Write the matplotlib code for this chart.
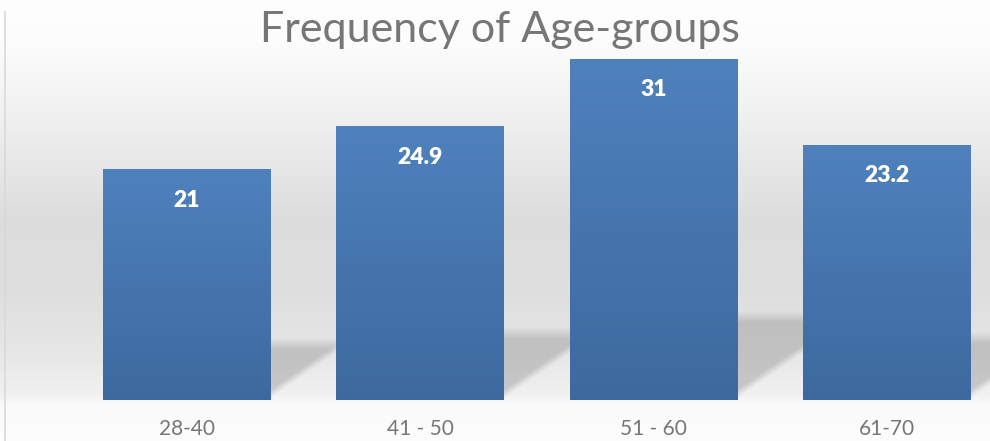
import matplotlib
matplotlib.use('Agg')
import matplotlib.pyplot as plt
import numpy as np

# data
age_groups = ['28-40', '41 - 50', '51 - 60', '61-70']
frequency = [21, 24.9, 31, 23.2]
value_labels = ['21', '24.9', '31', '23.2']

plt.rcParams['font.family'] = ['Lato', 'DejaVu Sans']

fig = plt.figure(figsize=(9.9, 4.41), dpi=100)

# background: soft grey band behind the bars
bg = fig.add_axes([0, 0, 1, 1], zorder=0)
yy = np.linspace(0, 441, 441)  # pixel rows from top
stops_y = [0, 40, 120, 220, 300, 360, 395, 405, 441]
stops_c = [0.995, 0.99, 0.94, 0.865, 0.875, 0.91, 0.945, 0.985, 0.99]
col = np.interp(yy, stops_y, stops_c)
img = np.repeat(col[:, None], 990, axis=1)
bg.imshow(np.dstack([img, img, img]), extent=[0, 990, 441, 0], aspect='auto')
bg.plot([5, 5], [12, 441], color='#d9d9d9', lw=1.2)
bg.set_xlim(0, 990)
bg.set_ylim(441, 0)
bg.axis('off')

ax = fig.add_axes([70 / 990, 41 / 441, 933.3 / 990, 385 / 441], zorder=1)
ax.patch.set_alpha(0)
x = np.arange(len(age_groups))
width = 0.716
bars = ax.bar(x, frequency, width=width, color='#4a7bb7', zorder=3)

# vertical gradient inside each bar
grad = np.linspace(0, 1, 256)[:, None]
top_c = np.array([0x4f, 0x81, 0xbd]) / 255
bot_c = np.array([0x3d, 0x69, 0x9f]) / 255
grad_img = top_c[None, None, :] * (1 - grad[:, :, None]) + bot_c[None, None, :] * grad[:, :, None]
for b in bars:
    x0, h, w = b.get_x(), b.get_height(), b.get_width()
    im = ax.imshow(grad_img, extent=[x0, x0 + w, 0, h], aspect='auto', origin='upper', zorder=4)
    im.set_clip_path(b)

# floor shadows cast to the right of each bar, longer for taller bars
px = 11.0  # pixels per data unit
gap = 1 - width
sh_px = 100
nu, nv = 80, 120
u = np.linspace(0, 1, nu)[None, :]
v = np.linspace(sh_px, 0, nv)[:, None]
vd = 4 + 46 * u
for b in bars:
    xr = b.get_x() + b.get_width()
    top = 0.245 * b.get_height() * px
    a = np.clip((v - vd) / 9 + 0.3, 0, 1) * np.clip((top - v) / 12 + 0.5, 0, 1) * 0.36
    sh = np.zeros((nv, nu, 4))
    sh[..., :3] = 0.5
    sh[..., 3] = a
    ax.imshow(sh, extent=[xr, xr + gap, 0, sh_px / px], aspect='auto', origin='upper', zorder=2)

for xi, h, lab in zip(x, frequency, value_labels):
    ax.text(xi, h - 31 / px, lab, ha='center', va='center', color='white',
            fontsize=16.5, fontweight='heavy', zorder=5)

ax.set_xlim(-0.5, 3.5)
ax.set_ylim(0, 35)
ax.set_xticks(x)
ax.set_xticklabels(age_groups, fontsize=15, color='#767676')
ax.tick_params(axis='x', length=0, pad=14)
ax.set_yticks([])
for s in ax.spines.values():
    s.set_visible(False)

fig.text(500 / 990, 1 - 30 / 441, 'Frequency of Age-groups', ha='center', va='center',
         fontsize=31, color='#767676')

fig.savefig('out.png', dpi=100)
